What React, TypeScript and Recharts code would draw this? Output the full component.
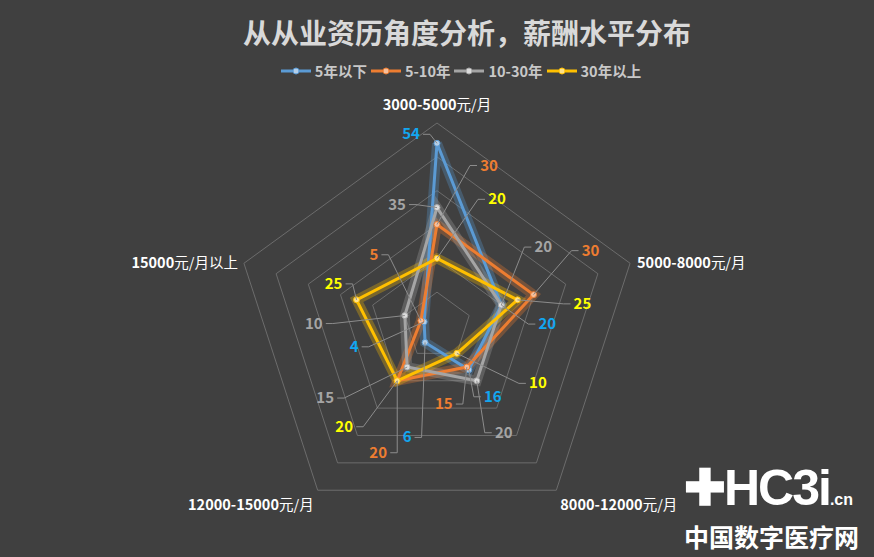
import { RadarChart, Radar, PolarGrid, PolarAngleAxis, PolarRadiusAxis } from "recharts";

const categories = ["3000-5000元/月", "5000-8000元/月", "8000-12000元/月", "12000-15000元/月", "15000元/月以上"];
const seriesNames = ["5年以下", "5-10年", "10-30年", "30年以上"];
const under5 = [54, 20, 16, 6, 4];
const from5to10 = [30, 30, 15, 20, 5];
const from10to30 = [35, 20, 20, 15, 10];
const over30 = [20, 25, 10, 20, 25];
const radiusTicks = [0, 10, 20, 30, 40, 50, 60];

const seriesValues = [under5, from5to10, from10to30, over30];
const lineColors = ["#5b9bd5", "#ed7d31", "#a5a5a5", "#ffc000"];
const dotColors = ["#b4cfe9", "#f6bf9b", "#dcdcdc", "#ffe28a"];
const labelColors = ["#12a6f0", "#ed7d31", "#a5a5a5", "#ffff00"];

// label offsets from each point (dx, dy), per series, per category
const labelOffsets = [
  [[-26, -9], [46, 19], [24, 27], [-18, 95], [-70, 25]],
  [[52, -59], [57, -44], [-23, 37], [-19, 72], [-47, -66]],
  [[-40, -3], [42, -58], [27, 52], [-82, 31], [-91, 8]],
  [[60, -59], [65, 4], [81, 30], [-53, 46], [-23, -16]],
];

const W = 874;
const H = 557;
const CX = 437;
const CY = 326;
const R = 203;
const FONT = "'Noto Sans CJK SC', 'Open Sans', sans-serif";

const data = categories.map((c, i) => {
  const row: Record<string, string | number> = { category: c };
  seriesValues.forEach((vals, s) => {
    row["s" + s] = vals[i];
  });
  return row;
});

function makeLabel(s: number) {
  return (props: any) => {
    const { x, y, value, index } = props;
    const [dx, dy] = labelOffsets[s][index];
    const lx = x + dx;
    const ly = y + dy;
    const w = String(value).length * 9;
    const edge = dx >= 0 ? lx - w / 2 - 3 : lx + w / 2 + 3;
    const elbow = dx >= 0 ? edge - 7 : edge + 7;
    return (
      <g key={`lab-${s}-${index}`}>
        <polyline
          points={`${x},${y} ${elbow},${ly} ${edge},${ly}`}
          fill="none"
          stroke="#8c8c8c"
          strokeWidth={1}
        />
        <text
          x={lx}
          y={ly + 5}
          textAnchor="middle"
          fill={labelColors[s]}
          fontSize={15}
          fontWeight="bold"
          fontFamily={FONT}
        >
          {value}
        </text>
      </g>
    );
  };
}

function AngleTick(props: any) {
  const { payload, index } = props;
  const angle = (90 - index * 72) * (Math.PI / 180);
  const vx = CX + R * Math.cos(angle);
  const vy = CY - R * Math.sin(angle);
  let x = vx;
  let y = vy;
  let anchor: "start" | "middle" | "end" = "middle";
  if (index === 0) {
    y = vy - 13;
  } else if (index === 1) {
    x = vx + 7;
    y = vy + 5;
    anchor = "start";
  } else if (index === 2) {
    x = vx + 4;
    y = vy + 20;
    anchor = "start";
  } else if (index === 3) {
    x = vx - 4;
    y = vy + 20;
    anchor = "end";
  } else {
    x = vx - 6;
    y = vy + 5;
    anchor = "end";
  }
  const m = String(payload.value).match(/^([\d-]+)(.*)$/);
  const num = m ? m[1] : "";
  const rest = m ? m[2] : String(payload.value);
  return (
    <text x={x} y={y} textAnchor={anchor} fill="#ffffff" fontSize={14.5} fontFamily={FONT}>
      <tspan fontWeight="bold">{num}</tspan>
      <tspan>{rest}</tspan>
    </text>
  );
}

function Legend() {
  return (
    <div
      style={{
        position: "absolute",
        top: 60,
        left: 24,
        width: W,
        display: "flex",
        justifyContent: "center",
        gap: 4,
        fontFamily: FONT,
        fontSize: 14.5,
        fontWeight: "bold",
        color: "#c8c8c8",
        alignItems: "center",
      }}
    >
      {seriesNames.map((n, i) => (
        <div key={n} style={{ display: "flex", alignItems: "center", gap: 4 }}>
          <svg width={30} height={10}>
            <line x1={0} y1={5} x2={30} y2={5} stroke={lineColors[i]} strokeWidth={3} />
            <circle cx={15} cy={5} r={3} fill={dotColors[i]} stroke={lineColors[i]} />
          </svg>
          <span>{n}</span>
        </div>
      ))}
    </div>
  );
}

export default function App() {
  return (
    <div style={{ position: "absolute", left: 0, top: 0, width: W, height: H, background: "#404040", overflow: "hidden" }}>
      <div
        style={{
          position: "absolute",
          top: 12,
          left: 30,
          width: W,
          textAlign: "center",
          fontFamily: FONT,
          fontSize: 28,
          fontWeight: "bold",
          color: "#d9d9d9",
          lineHeight: "40px",
        }}
      >
        从从业资历角度分析，薪酬水平分布
      </div>
      <Legend />
      <div style={{ position: "absolute", left: 0, top: 0 }}>
        <RadarChart width={W} height={H} data={data} cx={CX} cy={CY} outerRadius={R} margin={{ top: 0, right: 0, bottom: 0, left: 0 }}>
          <PolarGrid gridType="polygon" radialLines={false} stroke="#6c6c6c" />
          <PolarAngleAxis dataKey="category" tick={<AngleTick />} tickLine={false} axisLine={false} />
          <PolarRadiusAxis domain={[0, 60]} ticks={radiusTicks as any} tickCount={7} tick={false} axisLine={false} />
          {seriesNames.map((n, s) => (
            <Radar
              key={"glow" + s}
              dataKey={"s" + s}
              name={n + " glow"}
              stroke={lineColors[s]}
              strokeOpacity={0.3}
              strokeWidth={10}
              fillOpacity={0}
              dot={false}
              legendType="none"
              isAnimationActive={false}
            />
          ))}
          {seriesNames.map((n, s) => (
            <Radar
              key={"line" + s}
              dataKey={"s" + s}
              name={n}
              stroke={lineColors[s]}
              strokeWidth={3}
              fillOpacity={0}
              dot={{ r: 3, fill: dotColors[s], stroke: lineColors[s], strokeWidth: 1, fillOpacity: 1 }}
              label={makeLabel(s)}
              isAnimationActive={false}
            />
          ))}
        </RadarChart>
      </div>
      <div style={{ position: "absolute", left: 684, top: 458, color: "#ffffff", fontFamily: "'Liberation Sans', Arial, sans-serif", fontWeight: "bold", whiteSpace: "nowrap" }}>
        <span style={{ fontSize: 50, lineHeight: "60px", letterSpacing: -2 }}>✚HC3i</span>
        <span style={{ fontSize: 16 }}>.cn</span>
      </div>
      <div style={{ position: "absolute", left: 684, top: 519, color: "#ffffff", fontFamily: FONT, fontWeight: "bold", fontSize: 25, lineHeight: "34px", letterSpacing: 0 }}>
        中国数字医疗网
      </div>
    </div>
  );
}
